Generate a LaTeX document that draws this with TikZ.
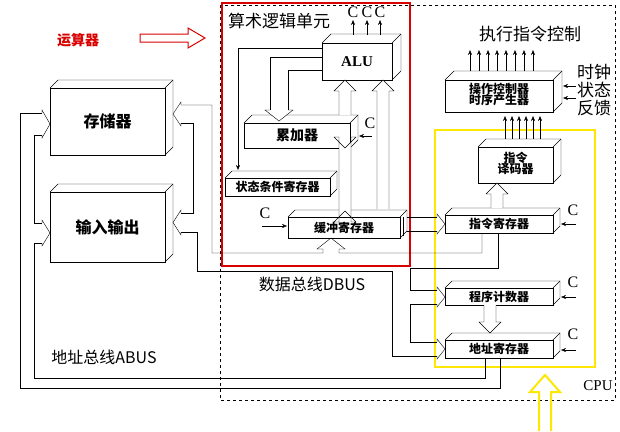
\documentclass[tikz,border=0pt]{standalone}
\usepackage{fontspec}
\setmainfont{Liberation Serif}
\newfontfamily\cjk{Noto Sans CJK SC}
\usetikzlibrary{arrows.meta}
\newcommand\cubebox[7]{%
  \draw[fill=white] (#2,#3) rectangle (#4,#5);
  \draw (#2,#3)--++(#6,-#6)--({#4+#6},{#3-#6})--({#4+#6},{#5-#6})--(#4,#5);
  \draw (#4,#3)--++(#6,-#6);
  \node[lbl] (#1) at ({(#2+#4)/2},{(#3+#5)/2}) {#7};}
\newcommand\hvarrow[3]{%
  \pgfmathsetmacro\hd{(#3<#2)?11:-11}%
  \draw[fill=white] ({#1-6},#2)--({#1-6},{#3+\hd})--({#1-11},{#3+\hd})--(#1,#3)--({#1+11},{#3+\hd})--({#1+6},{#3+\hd})--({#1+6},#2);}
\newcommand\hdarrow[3]{%
  \draw[fill=white] ({#1-6},{#2-11})--({#1-6},{#3+11})--({#1-11},{#3+11})--(#1,#3)--({#1+11},{#3+11})--({#1+6},{#3+11})--({#1+6},{#2-11})--({#1+11},{#2-11})--(#1,#2)--({#1-11},{#2-11})--cycle;}
\newcommand\chev[4]{%
  \draw ({#1-8*#4},#2)--({#1-8*#4},{#2-3})--(#1,{(#2+#3)/2})--({#1-8*#4},{#3+3})--({#1-8*#4},#3);}
\tikzset{x=1pt,y=-1pt, line width=1.1pt, >={Stealth[length=5pt,width=4pt]},
  lbl/.style={font=\cjk\bfseries\fontsize{12}{13}\selectfont, inner sep=0pt},
  big/.style={font=\cjk\fontsize{17}{18}\selectfont, inner sep=0pt},
  clbl/.style={font=\fontsize{16}{16}\selectfont, inner sep=0pt}}
\begin{document}
\begin{tikzpicture}
\useasboundingbox[fill=white] (0,0) rectangle (620,431);
\draw[dashed, line width=0.8pt] (220,5) rectangle (615,400);
\node[clbl,font=\fontsize{15}{15}\selectfont] (cpu) at (598,386) {CPU};
\draw[red!85!black, line width=2pt] (222,3) rectangle (410,266);
\draw[yellow!90!orange, line width=2pt] (435,130) rectangle (595,367);
\node[text=red!85!black, font=\cjk\bfseries\fontsize{14}{15}\selectfont, inner sep=0pt] (ysq) at (78,40) {运算器};
\draw[red!85!black, line width=1pt] (140,34)--(188,34)--(188,28)--(205,38)--(188,48)--(188,42)--(140,42)--cycle;
\draw[yellow!90!orange, line width=2pt] (539,431)--(539,392)--(530,392)--(545,375)--(560,392)--(551,392)--(551,431);
\cubebox{mem}{50}{88}{165}{155}{8}{\fontsize{16}{17}\selectfont 存储器}
\cubebox{io}{50}{192}{165}{262}{8}{\fontsize{16}{17}\selectfont 输入输出}
\cubebox{alu}{322}{43}{392}{80}{9}{\rmfamily\fontsize{15}{16}\selectfont ALU}
\cubebox{acc}{244}{123}{350}{148}{8}{\fontsize{14}{15}\selectfont 累加器}
\cubebox{psr}{225}{178}{330}{196}{7}{状态条件寄存器}
\cubebox{buf}{288}{217}{400}{238}{7}{缓冲寄存器}
\cubebox{ctl}{445}{80}{553}{112}{9}{\begin{tabular}{@{}c@{}}操作控制器\\[-3pt]时序产生器\end{tabular}}
\cubebox{dec}{478}{147}{553}{183}{8}{\begin{tabular}{@{}c@{}}指令\\[-3pt]译码器\end{tabular}}
\cubebox{ir}{445}{215}{553}{233}{7}{指令寄存器}
\cubebox{pc}{445}{288}{553}{305}{7}{程序计数器}
\cubebox{ar}{445}{340}{553}{358}{7}{地址寄存器}
\node[big] (alut) at (279,21) {算术逻辑单元};
\node[big] (exe) at (530,34) {执行指令控制};
\node[big] (clk) at (594,72) {时钟};
\node[big] (st) at (594,90) {状态};
\node[big] (fb) at (594,108) {反馈};
\node[big,font=\cjk\fontsize{16}{17}\selectfont] (dbus) at (312,284) {数据总线DBUS};
\node[big,font=\cjk\fontsize{16}{17}\selectfont] (abus) at (104,357) {地址总线ABUS};
\foreach \x/\t in {353/c1,367/c2,380/c3}{
  \node[clbl] (\t) at (\x,12) {C};
  \draw[->] (\x,35)--(\x,20);}
\foreach \x in {470,479,...,533} \draw[->] (\x,71)--(\x,50);
\foreach \x in {505,512,...,540} \draw[->] (\x,139)--(\x,116);
\draw[->] (576,86)--(563,86);
\draw[->] (576,98)--(563,98);
\node[clbl] (cacc) at (370,123) {C}; \draw[->] (372,136)--(359,136);
\node[clbl] (cbuf) at (265,213) {C}; \draw[->] (262,226)--(287,226);
\node[clbl] (cir) at (573,210) {C}; \draw[->] (576,224)--(561,224);
\node[clbl] (cpc) at (573,282) {C}; \draw[->] (576,297)--(561,297);
\node[clbl] (car) at (573,334) {C}; \draw[->] (576,350)--(561,350);
\draw[->] (322,48)--(238,48)--(238,170);
\draw (322,57)--(270,57)--(270,110);
\draw (322,70)--(288,70)--(288,110);
\draw[fill=white] (270,110)--(265,110)--(279,121)--(293,110)--(288,110);
\hvarrow{345}{115}{80}
\hdarrow{345}{148}{211}
\hvarrow{383}{209}{80}
\hvarrow{497}{208}{183}
\hvarrow{490}{305}{333}
\chev{173}{105}{123}{-1}
\chev{173}{213}{232}{-1}
\draw (181,105)--(212,105)--(212,253)--(323,253)--(323,249)--(317,249)--(331,238)--(345,249)--(339,249)--(339,253)--(482,253)--(482,233);
\draw (181,123)--(193,123)--(193,213)--(181,213);
\draw (181,232)--(197,232)--(197,271)--(392,271)--(392,356)--(437,356);
\draw (407,217)--(437,217);
\draw (407,231)--(437,231);
\draw (403,217)--(403,236);
\chev{445}{217}{231}{1}
\chev{445}{290}{304}{1}
\chev{445}{342}{356}{1}
\draw (498,233)--(498,268)--(410,268)--(410,290)--(437,290);
\draw (437,304)--(410,304)--(410,342)--(437,342);
\chev{50}{113}{135}{1}
\chev{50}{223}{243}{1}
\draw (42,113)--(20,113)--(20,388)--(500,388)--(500,358);
\draw (42,135)--(34,135)--(34,223)--(42,223);
\draw (42,243)--(34,243)--(34,378)--(485,378)--(485,358);
\end{tikzpicture}
\end{document}
